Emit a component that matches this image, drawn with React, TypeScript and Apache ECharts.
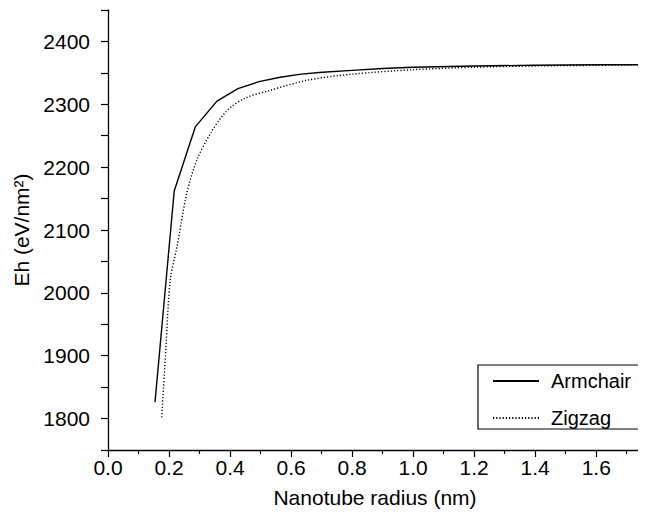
import React, { useEffect, useRef } from "react";
import * as echarts from "echarts";

const armchairR = [0.154, 0.217, 0.286, 0.357, 0.426, 0.495, 0.564, 0.633, 0.702, 0.8, 0.9, 1.0, 1.2, 1.4, 1.6, 1.75];
const armchairE = [1826, 2162, 2264, 2305, 2325, 2336, 2343, 2348, 2351, 2354, 2357, 2359, 2361, 2362, 2363, 2363];

const zigzagR = [0.176, 0.19, 0.204, 0.226, 0.258, 0.291, 0.335, 0.39, 0.45, 0.53, 0.65, 0.8, 1.0, 1.2, 1.4, 1.6, 1.75];
const zigzagE = [1802, 1915, 2021, 2073, 2158, 2211, 2253, 2290, 2310, 2322, 2338, 2348, 2355, 2359, 2361, 2362, 2363];

const FONT = "Liberation Sans, Arial, Helvetica, sans-serif";
const FS = 21;

export default function App() {
  const ref = useRef<HTMLDivElement>(null);
  useEffect(() => {
    if (!ref.current) return;
    const chart = echarts.init(ref.current, undefined, { renderer: "svg" });
    const axisCommon = {
      axisLine: { show: true, onZero: false, lineStyle: { color: "#000", width: 1.3 } },
      axisTick: { show: true, inside: false, length: 7, lineStyle: { color: "#000", width: 1.2 } },
      minorTick: { show: true, splitNumber: 2, length: 4, lineStyle: { color: "#000", width: 1.1 } },
      splitLine: { show: false },
      axisLabel: { color: "#000", fontSize: FS, fontFamily: FONT, margin: 7 },
      nameTextStyle: { color: "#000", fontSize: FS, fontFamily: FONT },
    };
    chart.setOption({
      animation: false,
      backgroundColor: "#fff",
      grid: { left: 108, right: 4, top: 10, bottom: 73, containLabel: false },
      xAxis: {
        type: "value",
        min: 0,
        max: 1.75,
        interval: 0.2,
        name: "Nanotube radius (nm)",
        nameLocation: "middle",
        nameGap: 37,
        ...axisCommon,
        axisLabel: {
          ...axisCommon.axisLabel,
          formatter: (v: number) => (Math.abs(v - 1.75) < 1e-6 ? "" : v.toFixed(1)),
        },
      },
      yAxis: {
        type: "value",
        min: 1750,
        max: 2450,
        interval: 50,
        name: "Eh (eV/nm²)",
        nameLocation: "middle",
        nameGap: 65,
        ...axisCommon,
        minorTick: { show: false },
        axisLabel: {
          ...axisCommon.axisLabel,
          margin: 18,
          formatter: (v: number) => (v % 100 === 0 ? String(v) : ""),
        },
      },
      legend: {
        orient: "vertical",
        left: 478,
        top: 365,
        padding: [6, 8, 1, 14],
        itemWidth: 46,
        itemHeight: 18,
        itemGap: 17,
        borderColor: "#000",
        borderWidth: 1.2,
        backgroundColor: "#fff",
        itemStyle: { opacity: 0 },
        textStyle: { color: "#000", fontSize: FS - 1, fontFamily: FONT, padding: [0, 0, 0, 7] },
        data: ["Armchair", "Zigzag"],
      },
      series: [
        {
          name: "Armchair",
          type: "line",
          showSymbol: false,
          symbol: "none",
          data: armchairR.map((r, i) => [r, armchairE[i]]),
          lineStyle: { color: "#000", width: 1.4, type: "solid" },
          itemStyle: { color: "#000" },
        },
        {
          name: "Zigzag",
          type: "line",
          showSymbol: false,
          symbol: "none",
          smooth: 0.3,
          data: zigzagR.map((r, i) => [r, zigzagE[i]]),
          lineStyle: { color: "#000", width: 1.4, type: [1.2, 2] },
          itemStyle: { color: "#000" },
        },
      ],
    });
    return () => chart.dispose();
  }, []);
  return <div ref={ref} style={{ width: 646, height: 523, marginLeft: -8, marginTop: -8 }} />;
}
